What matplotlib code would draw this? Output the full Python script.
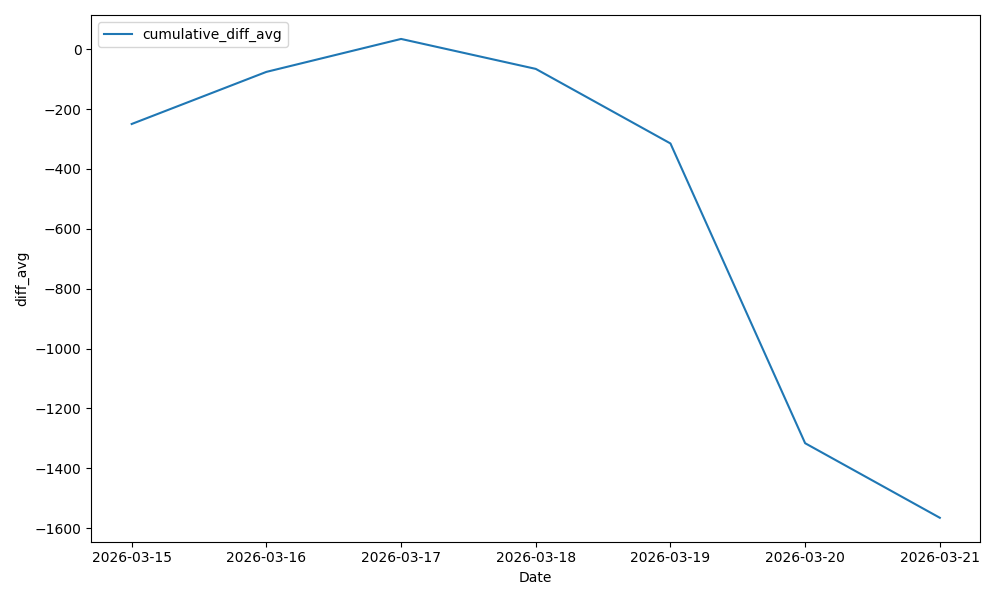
import numpy as np
import pandas as pd
import matplotlib
matplotlib.use("Agg")
import matplotlib.pyplot as plt

dates = ["2026-03-15", "2026-03-16", "2026-03-17", "2026-03-18",
         "2026-03-19", "2026-03-20", "2026-03-21"]
cumulative_diff_avg = [-250, -76, 34, -66, -315, -1316, -1565]

x = pd.to_datetime(dates)

fig, ax = plt.subplots(figsize=(10, 6), dpi=100)
ax.plot(x, cumulative_diff_avg, label="cumulative_diff_avg")
ax.set_xticks(x)
ax.set_xticklabels(dates)
ax.set_xlabel("Date")
ax.set_ylabel("diff_avg")
ax.legend(loc="upper left")
fig.tight_layout()
fig.savefig("out.png")
